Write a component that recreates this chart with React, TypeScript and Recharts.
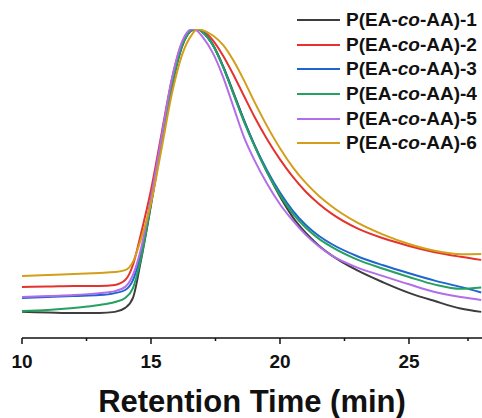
import { Line, LineChart, XAxis, YAxis } from 'recharts'

// retention time (min)
const time = [10, 11, 12, 13, 13.6, 14, 14.3, 14.6, 15, 15.4, 15.8, 16.2, 16.6, 16.8, 17, 17.4, 17.8, 18.2, 18.6, 19, 19.5, 20, 20.5, 21, 21.5, 22, 23, 24, 25, 26, 27, 27.8]

// normalized detector response, one array per sample
const s1 = [0.004, 0.002, 0, 0, 0.004, 0.018, 0.053, 0.18, 0.38, 0.592, 0.792, 0.937, 0.996, 1.0, 0.989, 0.945, 0.868, 0.775, 0.68, 0.593, 0.497, 0.41, 0.337, 0.282, 0.238, 0.203, 0.15, 0.108, 0.071, 0.042, 0.016, 0.004]
const s2 = [0.092, 0.093, 0.095, 0.095, 0.099, 0.116, 0.169, 0.275, 0.433, 0.627, 0.82, 0.951, 0.996, 1.0, 0.993, 0.96, 0.905, 0.838, 0.765, 0.693, 0.612, 0.541, 0.479, 0.427, 0.385, 0.35, 0.298, 0.263, 0.236, 0.214, 0.198, 0.187]
const s3 = [0.053, 0.056, 0.06, 0.063, 0.07, 0.081, 0.116, 0.204, 0.398, 0.609, 0.806, 0.944, 0.996, 1.0, 0.989, 0.943, 0.866, 0.772, 0.678, 0.594, 0.502, 0.424, 0.36, 0.31, 0.272, 0.243, 0.2, 0.168, 0.14, 0.114, 0.092, 0.072]
const s4 = [0.007, 0.011, 0.018, 0.028, 0.039, 0.053, 0.088, 0.187, 0.384, 0.599, 0.799, 0.94, 0.996, 1.0, 0.989, 0.943, 0.865, 0.77, 0.675, 0.59, 0.495, 0.415, 0.35, 0.3, 0.262, 0.233, 0.188, 0.156, 0.127, 0.1, 0.085, 0.09]
const s5 = [0.056, 0.06, 0.063, 0.07, 0.077, 0.092, 0.134, 0.222, 0.405, 0.616, 0.82, 0.954, 1.0, 0.993, 0.972, 0.915, 0.83, 0.725, 0.62, 0.54, 0.455, 0.383, 0.325, 0.275, 0.235, 0.203, 0.16, 0.13, 0.101, 0.074, 0.056, 0.046]
const s6 = [0.13, 0.134, 0.137, 0.141, 0.144, 0.151, 0.18, 0.257, 0.387, 0.574, 0.768, 0.908, 0.982, 1.0, 0.996, 0.977, 0.943, 0.888, 0.82, 0.745, 0.658, 0.58, 0.513, 0.458, 0.413, 0.376, 0.318, 0.276, 0.243, 0.219, 0.207, 0.208]

const seriesKeys = ['s1', 's2', 's3', 's4', 's5', 's6']
const seriesNums = ['1', '2', '3', '4', '5', '6']
const colors = ['#3d3d3d', '#e5322d', '#1f65d0', '#24a05f', '#b26de8', '#d39f1a']

const xTicks = [10, 12.5, 15, 17.5, 20, 22.5, 25, 27.5]

const data = time.map((t, i) => ({ t, s1: s1[i], s2: s2[i], s3: s3[i], s4: s4[i], s5: s5[i], s6: s6[i] }))

const FONT = '"Liberation Sans", Arial, sans-serif'

function TimeTick({ x, y, payload }: any) {
  const major = payload.value % 5 === 0
  return (
    <g>
      <line x1={x} y1={y} x2={x} y2={y + (major ? 6 : 3)} stroke="#111" strokeWidth={1.5} />
      {major && (
        <text x={x} y={y + 30} textAnchor="middle" fontFamily={FONT} fontWeight="bold" fontSize={19} fill="#111">
          {payload.value}
        </text>
      )}
    </g>
  )
}

export default function App() {
  return (
    <div style={{ position: 'absolute', left: 0, top: 0, width: 482, height: 418, background: '#fff' }}>
      <LineChart width={482} height={418} data={data} margin={{ top: 29, right: 0, bottom: 0, left: 22 }}>
        <XAxis
          dataKey="t"
          type="number"
          domain={[10, 27.83]}
          ticks={xTicks}
          tick={<TimeTick />}
          tickLine={false}
          tickSize={0}
          tickMargin={0}
          height={80}
          axisLine={{ stroke: '#111', strokeWidth: 1.5 }}
          allowDataOverflow
          label={{
            value: 'Retention Time (min)',
            position: 'insideBottom',
            offset: 6,
            fill: '#111',
            fontSize: 31,
            fontWeight: 'bold',
            fontFamily: FONT,
          }}
        />
        <YAxis hide domain={[-0.088, 1]} allowDataOverflow />
        {seriesKeys.map((k, i) => (
          <Line
            key={k}
            dataKey={k}
            type="monotone"
            stroke={colors[i]}
            strokeWidth={2}
            dot={false}
            isAnimationActive={false}
          />
        ))}
      </LineChart>
      <div style={{ position: 'absolute', left: 297, top: 8, fontFamily: FONT, fontWeight: 'bold', fontSize: 19, color: '#111' }}>
        {seriesNums.map((n, i) => (
          <div key={n} style={{ display: 'flex', alignItems: 'center', height: 24.6, whiteSpace: 'nowrap' }}>
            <span style={{ display: 'inline-block', width: 43, height: 2, background: colors[i], marginRight: 6 }} />
            <span>
              P(EA-<i>co</i>-AA)-{n}
            </span>
          </div>
        ))}
      </div>
    </div>
  )
}
